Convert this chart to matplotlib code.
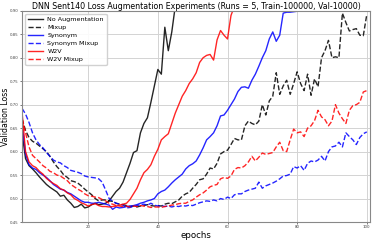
import matplotlib
matplotlib.use('Agg')
import matplotlib.pyplot as plt
import numpy as np

# validation loss per epoch (series stop once they leave the top of the plot)
no_aug = [0.640, 0.585, 0.570, 0.563, 0.555, 0.546, 0.538, 0.530, 0.524, 0.519,
          0.514, 0.505, 0.507, 0.497, 0.490, 0.481, 0.483, 0.488, 0.480, 0.482,
          0.487, 0.490, 0.487, 0.488, 0.490, 0.495, 0.505, 0.515, 0.522, 0.535,
          0.555, 0.575, 0.598, 0.602, 0.640, 0.660, 0.672, 0.705, 0.740, 0.775,
          0.765, 0.865, 0.815, 0.855, 0.910]

mixup = [0.670, 0.645, 0.630, 0.622, 0.618, 0.612, 0.606, 0.600, 0.590, 0.578,
         0.568, 0.560, 0.550, 0.545, 0.538, 0.536, 0.533, 0.527, 0.520, 0.514,
         0.508, 0.500, 0.495, 0.497, 0.497, 0.495, 0.494, 0.490, 0.488, 0.487,
         0.485, 0.483, 0.484, 0.482, 0.484, 0.485, 0.487, 0.485, 0.484, 0.485,
         0.484, 0.488, 0.490, 0.489, 0.493, 0.497, 0.505, 0.510, 0.513, 0.522,
         0.530, 0.540, 0.542, 0.552, 0.565, 0.563, 0.575, 0.595, 0.600, 0.603,
         0.615, 0.628, 0.625, 0.625, 0.655, 0.665, 0.660, 0.657, 0.665, 0.700,
         0.678, 0.708, 0.718, 0.768, 0.722, 0.740, 0.752, 0.722, 0.745, 0.770,
         0.745, 0.730, 0.765, 0.720, 0.755, 0.738, 0.800, 0.815, 0.837, 0.800,
         0.802, 0.800, 0.895, 0.875, 0.857, 0.860, 0.862, 0.848, 0.847, 0.892]

synonym = [0.660, 0.595, 0.572, 0.565, 0.562, 0.555, 0.550, 0.545, 0.538, 0.530,
           0.525, 0.520, 0.518, 0.513, 0.510, 0.505, 0.500, 0.495, 0.492, 0.492,
           0.490, 0.490, 0.492, 0.490, 0.488, 0.486, 0.477, 0.482, 0.480, 0.481,
           0.483, 0.484, 0.485, 0.487, 0.490, 0.492, 0.495, 0.497, 0.500, 0.510,
           0.515, 0.518, 0.525, 0.533, 0.540, 0.546, 0.552, 0.563, 0.570, 0.574,
           0.580, 0.593, 0.608, 0.625, 0.632, 0.640, 0.655, 0.676, 0.678, 0.688,
           0.700, 0.712, 0.728, 0.737, 0.738, 0.735, 0.752, 0.765, 0.782, 0.800,
           0.815, 0.840, 0.855, 0.835, 0.848, 0.895, 0.897, 0.897, 0.898, 0.899,
           0.910]

synonym_mixup = [0.692, 0.680, 0.662, 0.640, 0.625, 0.615, 0.608, 0.598, 0.590, 0.582,
                 0.578, 0.576, 0.570, 0.566, 0.560, 0.558, 0.556, 0.553, 0.548, 0.546,
                 0.545, 0.544, 0.542, 0.535, 0.518, 0.500, 0.494, 0.490, 0.488, 0.486,
                 0.480, 0.481, 0.483, 0.485, 0.487, 0.488, 0.486, 0.490, 0.486, 0.484,
                 0.485, 0.483, 0.484, 0.482, 0.484, 0.483, 0.485, 0.484, 0.486, 0.485,
                 0.488, 0.491, 0.493, 0.495, 0.494, 0.497, 0.495, 0.500, 0.498, 0.503,
                 0.500, 0.508, 0.510, 0.510, 0.515, 0.518, 0.520, 0.522, 0.535, 0.522,
                 0.527, 0.530, 0.533, 0.537, 0.542, 0.548, 0.549, 0.552, 0.568, 0.565,
                 0.570, 0.560, 0.575, 0.580, 0.578, 0.582, 0.590, 0.580, 0.600, 0.610,
                 0.612, 0.620, 0.610, 0.640, 0.632, 0.625, 0.615, 0.630, 0.638, 0.642]

w2v = [0.684, 0.600, 0.578, 0.570, 0.566, 0.558, 0.552, 0.543, 0.537, 0.532,
       0.528, 0.521, 0.518, 0.512, 0.508, 0.500, 0.496, 0.491, 0.488, 0.484,
       0.487, 0.489, 0.485, 0.483, 0.483, 0.482, 0.483, 0.484, 0.486, 0.488,
       0.490, 0.498, 0.510, 0.522, 0.540, 0.555, 0.562, 0.572, 0.590, 0.605,
       0.625, 0.632, 0.638, 0.660, 0.682, 0.700, 0.718, 0.730, 0.745, 0.755,
       0.768, 0.790, 0.800, 0.805, 0.807, 0.795, 0.838, 0.858, 0.848, 0.840,
       0.890, 0.910]

w2v_mixup = [0.670, 0.640, 0.610, 0.592, 0.585, 0.578, 0.570, 0.565, 0.558, 0.555,
             0.550, 0.548, 0.543, 0.538, 0.530, 0.525, 0.520, 0.516, 0.510, 0.506,
             0.505, 0.503, 0.502, 0.498, 0.495, 0.490, 0.488, 0.485, 0.484, 0.483,
             0.484, 0.482, 0.484, 0.483, 0.485, 0.484, 0.483, 0.481, 0.482, 0.482,
             0.481, 0.483, 0.484, 0.486, 0.487, 0.489, 0.490, 0.490, 0.494, 0.497,
             0.503, 0.508, 0.512, 0.518, 0.525, 0.528, 0.530, 0.542, 0.545, 0.543,
             0.548, 0.562, 0.566, 0.565, 0.570, 0.578, 0.590, 0.580, 0.588, 0.597,
             0.594, 0.596, 0.598, 0.610, 0.620, 0.602, 0.600, 0.625, 0.648, 0.640,
             0.642, 0.632, 0.650, 0.655, 0.666, 0.688, 0.674, 0.668, 0.655, 0.665,
             0.700, 0.682, 0.670, 0.660, 0.688, 0.698, 0.700, 0.705, 0.727, 0.730]

labels = ['No Augmentation', 'Mixup', 'Synonym', 'Synonym Mixup', 'W2V', 'W2V Mixup']
series = [no_aug, mixup, synonym, synonym_mixup, w2v, w2v_mixup]
colors = ['k', 'k', 'b', 'b', 'r', 'r']
styles = ['-', '--', '-', '--', '-', '--']

fig = plt.figure(figsize=(3.74, 2.4), dpi=100)
ax = fig.add_axes([0.059, 0.075, 0.931, 0.88])

for vals, lab, c, ls in zip(series, labels, colors, styles):
    ep = np.arange(1, len(vals) + 1)
    ax.plot(ep, vals, color=c, ls=ls, lw=1.0, alpha=0.85, label=lab)

ax.set_xlim(1, 101)
ax.set_ylim(0.45, 0.90)
ax.set_xticks([20, 40, 60, 80, 100])
yt = np.arange(0.45, 0.901, 0.05)
ax.set_yticks(yt)
ax.set_yticklabels(['%.2f' % v for v in yt])
ax.tick_params(labelsize=2.8, length=1.5, width=0.5, pad=1, colors='#444444')
ax.grid(color='lightgray', lw=0.7)
for s in ax.spines.values():
    s.set_color('#888888')
    s.set_linewidth(0.8)

ax.set_title('DNN Sent140 Loss Augmentation Experiments (Runs = 5, Train-100000, Val-10000)',
             fontsize=5.7, pad=1.5)
ax.set_xlabel('epochs', fontsize=6.2, labelpad=1)
ax.set_ylabel('Validation Loss', fontsize=5.6)
ax.yaxis.set_label_coords(-0.036, 0.5)
ax.legend(loc='upper left', fontsize=4.6, handlelength=2.3, borderpad=0.45,
          labelspacing=0.4, handletextpad=0.7, framealpha=0.9,
          bbox_to_anchor=(0.0, 1.0))

fig.savefig('out.png', dpi=100)
